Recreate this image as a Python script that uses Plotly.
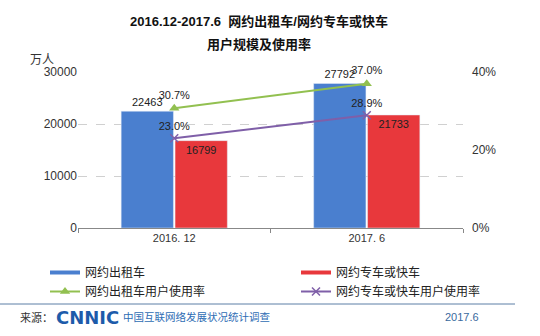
import plotly.graph_objects as go

categories = ["2016. 12", "2017. 6"]
taxi_users = [22463, 27792]
ride_users = [16799, 21733]
taxi_rate = [0.307, 0.370]
ride_rate = [0.230, 0.289]

names = ["网约出租车", "网约专车或快车", "网约出租车用户使用率", "网约专车或快车用户使用率"]
BLUE = "#4A7FCF"
RED = "#E8383C"
GREEN = "#92C050"
PURPLE = "#7F5FA8"
FONT = "Liberation Sans, Arial, Noto Sans CJK SC"

PL, PR, PT, PB = 78, 463, 72, 228
PW, PH = PR - PL, PB - PT


def px(x):
    return (x - PL) / PW


def py(y):
    return (PB - y) / PH


fig = go.Figure()
fig.add_trace(go.Bar(x=categories, y=taxi_users, marker_color=BLUE, name=names[0],
                     text=[str(v) for v in taxi_users], textposition="outside",
                     textfont=dict(size=11, color="#222"), cliponaxis=False, showlegend=False))
fig.add_trace(go.Bar(x=categories, y=ride_users, marker_color=RED, name=names[1],
                     text=[str(v) for v in ride_users], textposition="inside",
                     insidetextanchor="end", textangle=0,
                     textfont=dict(size=11, color="#222"), showlegend=False))
# legend proxies for bars
fig.add_trace(go.Scatter(x=[None], y=[None], mode="lines", line=dict(color=BLUE, width=4),
                         name=names[0], legend="legend"))
fig.add_trace(go.Scatter(x=[None], y=[None], mode="lines", line=dict(color=RED, width=4),
                         name=names[1], legend="legend2"))
fig.add_trace(go.Scatter(x=categories, y=taxi_rate, yaxis="y2", mode="lines+markers+text",
                         line=dict(color=GREEN, width=2), marker=dict(symbol="triangle-up", size=9, color=GREEN),
                         text=[f"{v*100:.1f}%" for v in taxi_rate], textposition="top center",
                         textfont=dict(size=11, color="#222"), name=names[2], cliponaxis=False,
                         legend="legend"))
fig.add_trace(go.Scatter(x=categories, y=ride_rate, yaxis="y2", mode="lines+markers+text",
                         line=dict(color=PURPLE, width=2), marker=dict(symbol="x-thin", size=8, color=PURPLE,
                         line=dict(color=PURPLE, width=1.5)),
                         text=[f"{v*100:.1f}%" for v in ride_rate], textposition="top center",
                         textfont=dict(size=11, color="#222"), name=names[3], cliponaxis=False,
                         legend="legend2"))

legend_common = dict(orientation="v", yanchor="top", traceorder="normal",
                     font=dict(size=12, color="#222"), tracegroupgap=0, itemwidth=30,
                     bgcolor="rgba(0,0,0,0)")

fig.update_layout(
    width=540, height=336,
    margin=dict(l=PL, r=540 - PR, t=PT, b=336 - PB, autoexpand=False),
    paper_bgcolor="white", plot_bgcolor="white",
    font=dict(family=FONT, size=11, color="#333"),
    barmode="group", bargap=0.44, bargroupgap=0.03,
    xaxis=dict(type="category", showline=True, linecolor="#888", linewidth=1,
               ticks="outside", tickson="boundaries", ticklen=4, tickcolor="#888",
               showgrid=False, tickfont=dict(size=11, color="#333")),
    yaxis=dict(range=[0, 30000], tickvals=[0, 10000, 20000, 30000], ticktext=["0", "10000", "20000", "30000"],
               showgrid=True, gridcolor="#D0D0D0", griddash="dash", zeroline=False,
               showline=False, tickfont=dict(size=12, color="#333")),
    yaxis2=dict(range=[0, 0.4], tickvals=[0, 0.2, 0.4], ticktext=["0%", "20%", "40%"],
                overlaying="y", side="right", showgrid=False, zeroline=False,
                ticklabelstandoff=8, tickfont=dict(size=12, color="#333")),
    legend=dict(x=px(45), xanchor="left", y=py(258), **legend_common),
    legend2=dict(x=px(296), xanchor="left", y=py(258), **legend_common),
    showlegend=True,
)

fig.add_annotation(text="<b>2016.12-2017.6  网约出租车/网约专车或快车</b>", xref="paper", yref="paper",
                   x=px(259), y=py(21), xanchor="center", yanchor="middle", showarrow=False,
                   font=dict(size=13, color="#111"))
fig.add_annotation(text="<b>用户规模及使用率</b>", xref="paper", yref="paper",
                   x=px(259), y=py(44), xanchor="center", yanchor="middle", showarrow=False,
                   font=dict(size=13, color="#111"))

fig.add_annotation(text="万人", xref="paper", yref="paper", x=px(42), y=py(60), xanchor="center",
                   yanchor="middle", showarrow=False, font=dict(size=12, color="#333"))

fig.add_shape(type="line", xref="paper", yref="paper", x0=px(0), x1=px(515),
              y0=py(304), y1=py(304), line=dict(color="#5C7FA6", width=1))

fy = py(317)
fig.add_annotation(text="来源：", xref="paper", yref="paper", x=px(18), y=fy, xanchor="left",
                   yanchor="middle", showarrow=False, font=dict(size=11, color="#333"))
fig.add_annotation(text="<b>CNNIC</b>", xref="paper", yref="paper", x=px(54), y=fy, xanchor="left",
                   yanchor="middle", showarrow=False, font=dict(size=18, color="#1D5BAA", family="DejaVu Sans"))
fig.add_annotation(text="中国互联网络发展状况统计调查", xref="paper", yref="paper", x=px(121), y=fy,
                   xanchor="left", yanchor="middle", showarrow=False, font=dict(size=10.5, color="#2E6DB4"))
fig.add_annotation(text="2017.6", xref="paper", yref="paper", x=px(443), y=fy, xanchor="left",
                   yanchor="middle", showarrow=False, font=dict(size=11, color="#3A6A9E"))

fig.write_html("out.html")
